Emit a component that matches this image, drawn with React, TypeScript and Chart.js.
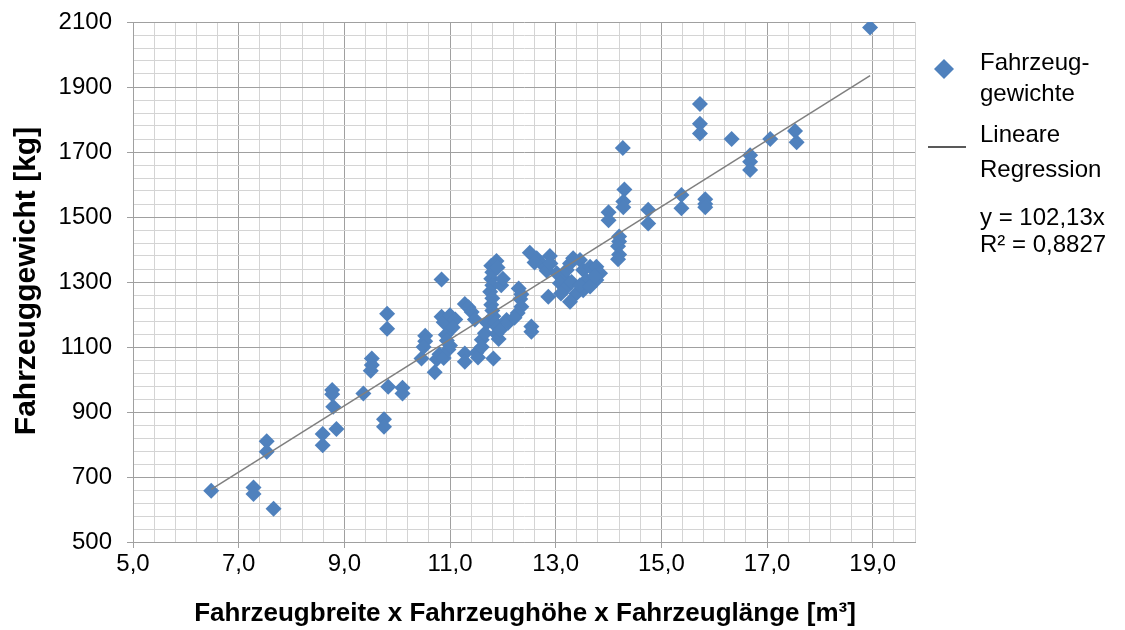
import React, { useEffect, useRef } from 'react';
import { Chart, registerables } from 'chart.js';

Chart.register(...registerables);

// Scatter data: vehicle volume [m³] vs vehicle weight [kg]
const weightX = [
  6.48, 7.28, 7.28, 7.66, 7.53, 7.53, 8.59, 8.59, 8.85, 8.77, 8.77, 8.79, 9.36, 9.52, 9.52, 9.5,
  9.81, 9.81, 9.83, 9.75, 9.75, 10.1, 10.1,
  10.46, 10.53, 10.53, 10.5, 10.71, 10.75, 10.8, 10.88, 10.84, 10.84, 10.88, 11.0, 10.92, 10.94,
  10.97, 11.0, 11.1, 11.05, 11.28, 11.35, 11.41, 11.47, 11.28, 11.28, 11.5, 11.53, 11.6, 11.66,
  11.7, 11.6,
  11.78, 11.8, 11.78, 11.8, 11.76, 11.8, 11.78, 11.8, 11.82, 11.88, 11.9, 11.85, 11.9, 11.88,
  11.92, 11.82, 11.97, 12.0, 12.07, 11.95, 12.1,
  12.3, 12.35, 12.33, 12.35, 12.28, 12.22, 12.54, 12.54, 12.51, 12.64, 12.73, 12.6, 12.89, 12.86,
  12.83, 12.9,
  13.02, 13.14, 13.21, 13.27, 13.46, 13.52, 13.58, 13.65, 13.77, 13.84, 13.77, 13.52, 13.39,
  13.27, 13.08, 13.18, 13.3, 13.33, 13.46, 13.65, 13.74, 13.1,
  14.2, 14.2, 14.18, 14.2, 14.18, 14.0, 14.0, 14.27, 14.3, 14.28, 14.28, 14.75, 14.75, 15.38,
  15.38, 15.83, 15.83, 15.83, 15.73, 15.73, 15.73, 16.33, 16.68, 16.68, 16.68, 17.06, 17.53,
  17.56, 18.95,
];
const weightY = [
  658, 668, 648, 602, 810, 778, 832, 798, 848, 968, 955, 916, 957, 1065, 1045, 1027,
  1202, 1156, 978, 878, 855, 975, 957,
  1065, 1135, 1118, 1100, 1022, 1062, 1078, 1066, 1308, 1193, 1176, 1198, 1138, 1120,
  1092, 1105, 1185, 1160, 1232, 1222, 1208, 1185, 1080, 1055, 1082, 1068, 1122, 1142,
  1175, 1100,
  1350, 1330, 1310, 1290, 1270, 1250, 1230, 1212, 1195, 1365, 1345, 1175, 1160, 1140,
  1125, 1065, 1290, 1310, 1183, 1152, 1175,
  1280, 1262, 1248, 1224, 1205, 1190, 1163, 1147, 1390, 1373, 1357, 1360, 1380, 1255,
  1335, 1357,
  1327, 1316, 1337, 1357, 1368, 1337, 1306, 1347, 1347, 1327, 1306, 1275, 1265,
  1239, 1296, 1280, 1300, 1373, 1290, 1286, 1318, 1265,
  1440, 1425, 1410, 1385, 1370, 1515, 1490, 1712, 1585, 1548, 1530, 1522, 1480, 1568,
  1527, 1555, 1540, 1530, 1848, 1787, 1757, 1740, 1690, 1670, 1645, 1740, 1765,
  1730, 2083,
];

// Regression line endpoints (y = 102,13x)
const trendX = [6.48, 18.95];
const trendY = [662, 1935];

const xMin = 5;
const xMax = 19.8;
const xMinorStep = 0.4;
const xMajorStep = 2;
const yMin = 500;
const yMax = 2100;
const yMinorStep = 40;
const yMajorStep = 200;

const xTitle = 'Fahrzeugbreite x Fahrzeughöhe x Fahrzeuglänge [m³]';
const yTitle = 'Fahrzeuggewicht [kg]';
const legendSeries = ['Fahrzeug-', 'gewichte'];
const legendTrend = ['Lineare', 'Regression'];
const legendEquation = ['y = 102,13x', 'R² = 0,8827'];

const FONT = '"Liberation Sans", Arial, Helvetica, sans-serif';
const BLUE = '#4f81bd';
const MAJOR = '#a0a0a0';
const MINOR = '#d4d4d4';

const isMajor = (v: number, base: number, step: number) => {
  const k = (v - base) / step;
  return Math.abs(k - Math.round(k)) < 1e-6;
};

const overlayPlugin = {
  id: 'overlay',
  afterDraw(chart: any) {
    const ctx = chart.ctx as CanvasRenderingContext2D;
    ctx.save();
    ctx.fillStyle = '#000';
    ctx.textBaseline = 'alphabetic';

    // axis titles
    ctx.font = `bold 26px ${FONT}`;
    ctx.textAlign = 'center';
    ctx.fillText(xTitle, 525, 621);
    ctx.save();
    ctx.font = `bold 30px ${FONT}`;
    ctx.translate(35, 281);
    ctx.rotate(-Math.PI / 2);
    ctx.fillText(yTitle, 0, 0);
    ctx.restore();

    // legend
    ctx.textAlign = 'left';
    ctx.font = `24px ${FONT}`;
    const cx = 944;
    const cy = 69;
    const r = 10;
    ctx.fillStyle = BLUE;
    ctx.beginPath();
    ctx.moveTo(cx, cy - r);
    ctx.lineTo(cx + r, cy);
    ctx.lineTo(cx, cy + r);
    ctx.lineTo(cx - r, cy);
    ctx.closePath();
    ctx.fill();
    ctx.fillStyle = '#000';
    ctx.fillText(legendSeries[0], 980, 70);
    ctx.fillText(legendSeries[1], 980, 101);
    ctx.strokeStyle = '#222';
    ctx.lineWidth = 1.5;
    ctx.beginPath();
    ctx.moveTo(928, 147);
    ctx.lineTo(966, 147);
    ctx.stroke();
    ctx.fillText(legendTrend[0], 980, 142);
    ctx.fillText(legendTrend[1], 980, 177);
    ctx.fillText(legendEquation[0], 980, 225);
    ctx.fillText(legendEquation[1], 980, 252);
    ctx.restore();
  },
};

export default function App() {
  const ref = useRef<HTMLCanvasElement | null>(null);

  useEffect(() => {
    if (!ref.current) return;
    Chart.defaults.font.family = FONT;
    const points = weightX.map((x, i) => ({ x, y: weightY[i] }));
    const trend = trendX.map((x, i) => ({ x, y: trendY[i] }));
    const chart = new Chart(ref.current, {
      type: 'scatter',
      data: {
        datasets: [
          {
            type: 'line',
            label: 'Lineare Regression',
            data: trend,
            borderColor: '#7f7f7f',
            borderWidth: 1.5,
            pointRadius: 0,
            fill: false,
            order: 0,
          } as any,
          {
            label: 'Fahrzeuggewichte',
            data: points,
            pointStyle: 'rectRot',
            pointRadius: 8,
            pointHoverRadius: 8,
            backgroundColor: BLUE,
            borderColor: BLUE,
            borderWidth: 0,
            order: 1,
          },
        ],
      },
      options: {
        responsive: false,
        animation: false,
        devicePixelRatio: 1,
        layout: { padding: { left: 0, right: 210, top: 22, bottom: 0 } },
        plugins: {
          legend: { display: false },
          tooltip: { enabled: false },
          title: { display: false },
        },
        scales: {
          x: {
            type: 'linear',
            min: xMin,
            max: xMax,
            afterFit: (s: any) => {
              s.height = 88;
              s.paddingLeft = 0;
              s.paddingRight = 0;
            },
            border: { color: MAJOR, width: 1 },
            grid: {
              color: (c: any) => (isMajor(c.tick.value, xMin, xMajorStep) ? MAJOR : MINOR),
              tickColor: (c: any) =>
                isMajor(c.tick.value, xMin, xMajorStep) ? MAJOR : 'rgba(0,0,0,0)',
              tickLength: 6,
              lineWidth: 1,
            },
            ticks: {
              stepSize: xMinorStep,
              autoSkip: false,
              maxRotation: 0,
              minRotation: 0,
              padding: 2,
              color: '#000',
              font: { size: 24, family: FONT },
              callback: (v: any) => {
                const n = Number(v);
                return isMajor(n, xMin, xMajorStep) ? n.toFixed(1).replace('.', ',') : '';
              },
            },
          },
          y: {
            type: 'linear',
            min: yMin,
            max: yMax,
            afterFit: (s: any) => {
              s.width = 133;
              s.paddingTop = 0;
              s.paddingBottom = 0;
            },
            border: { color: MAJOR, width: 1 },
            grid: {
              color: (c: any) => (isMajor(c.tick.value, yMin, yMajorStep) ? MAJOR : MINOR),
              tickColor: (c: any) =>
                isMajor(c.tick.value, yMin, yMajorStep) ? MAJOR : 'rgba(0,0,0,0)',
              tickLength: 6,
              lineWidth: 1,
            },
            ticks: {
              stepSize: yMinorStep,
              autoSkip: false,
              padding: 15,
              color: '#000',
              font: { size: 24, family: FONT },
              callback: (v: any) => {
                const n = Number(v);
                return isMajor(n, yMin, yMajorStep) ? String(Math.round(n)) : '';
              },
            },
          },
        },
      },
      plugins: [overlayPlugin],
    });
    return () => chart.destroy();
  }, []);

  return (
    <div style={{ position: 'absolute', left: 0, top: 0, width: 1125, height: 630, background: '#fff' }}>
      <canvas ref={ref} width={1125} height={630} style={{ display: 'block' }} />
    </div>
  );
}
